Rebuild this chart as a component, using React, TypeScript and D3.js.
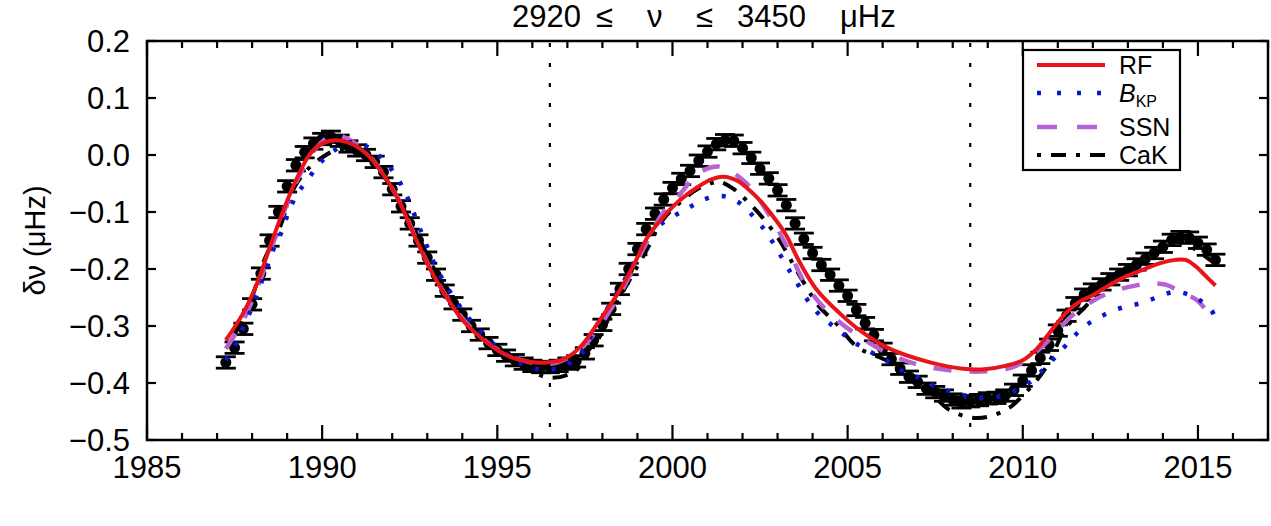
import React, { useEffect, useRef } from 'react';
import * as d3 from 'd3';

// observed frequency shifts (quarterly averages) with error bars
const obsYears = [
  1987.25, 1987.5, 1987.75, 1988.0, 1988.25, 1988.5, 1988.75, 1989.0, 1989.25, 1989.5, 1989.75,
  1990.0, 1990.25, 1990.5, 1990.75, 1991.0, 1991.25, 1991.5, 1991.75, 1992.0, 1992.25, 1992.5, 1992.75,
  1993.0, 1993.25, 1993.5, 1993.75, 1994.0, 1994.25, 1994.5, 1994.75, 1995.0, 1995.25, 1995.5, 1995.75,
  1996.0, 1996.25, 1996.5, 1996.75, 1997.0, 1997.25, 1997.5, 1997.75, 1998.0, 1998.25, 1998.5, 1998.75,
  1999.0, 1999.25, 1999.5, 1999.75, 2000.0, 2000.25, 2000.5, 2000.75, 2001.0, 2001.25, 2001.5, 2001.75,
  2002.0, 2002.25, 2002.5, 2002.75, 2003.0, 2003.25, 2003.5, 2003.75, 2004.0, 2004.25, 2004.5, 2004.75,
  2005.0, 2005.25, 2005.5, 2005.75, 2006.0, 2006.25, 2006.5, 2006.75, 2007.0, 2007.25, 2007.5, 2007.75,
  2008.0, 2008.25, 2008.5, 2008.75, 2009.0, 2009.25, 2009.5, 2009.75, 2010.0, 2010.25, 2010.5, 2010.75,
  2011.0, 2011.25, 2011.5, 2011.75, 2012.0, 2012.25, 2012.5, 2012.75, 2013.0, 2013.25, 2013.5, 2013.75,
  2014.0, 2014.25, 2014.5, 2014.75, 2015.0, 2015.25, 2015.5,
];
const obsValues = [
  -0.364, -0.338, -0.305, -0.262, -0.208, -0.15, -0.1, -0.055, -0.018, 0.005, 0.02,
  0.028, 0.032, 0.025, 0.015, 0.008, 0.0, -0.012, -0.03, -0.06, -0.09, -0.12, -0.15,
  -0.18, -0.21, -0.238, -0.26, -0.28, -0.3, -0.315, -0.33, -0.342, -0.352, -0.36, -0.366,
  -0.37, -0.372, -0.372, -0.37, -0.366, -0.362, -0.348, -0.325, -0.298, -0.27, -0.235, -0.2,
  -0.165, -0.13, -0.103, -0.078, -0.058, -0.042, -0.028, -0.01, 0.006, 0.019, 0.026, 0.025,
  0.012, -0.005, -0.024, -0.041, -0.062, -0.088, -0.12, -0.147, -0.172, -0.193, -0.21, -0.229,
  -0.247, -0.272, -0.295, -0.316, -0.34, -0.358, -0.375, -0.389, -0.398, -0.41, -0.416, -0.422,
  -0.429, -0.434, -0.432, -0.43, -0.427, -0.426, -0.422, -0.412, -0.396, -0.378, -0.356, -0.333,
  -0.308, -0.282, -0.26, -0.245, -0.236, -0.227, -0.218, -0.21, -0.202, -0.192, -0.182, -0.172,
  -0.161, -0.149, -0.144, -0.145, -0.154, -0.166, -0.184,
];
const obsError = 0.01;

// model fits
const rfYears = [
  1987.25, 1987.75, 1988.15, 1988.5, 1988.9, 1989.3, 1989.66, 1990.0, 1990.4, 1990.8, 1991.25,
  1991.7, 1992.15, 1992.6, 1993.1, 1993.55, 1994.0, 1994.5, 1995.0, 1995.45, 1995.95, 1996.4,
  1996.9, 1997.35, 1997.9, 1998.5, 1998.9, 1999.3, 1999.75, 2000.2, 2000.7, 2001.15, 2001.45,
  2001.85, 2002.2, 2002.56, 2002.9, 2003.24, 2003.62, 2004.1, 2004.76, 2005.4, 2006.1, 2007.3,
  2008.3, 2008.9, 2009.5, 2010.0, 2010.4, 2010.75, 2011.2, 2011.6, 2012.0, 2012.5, 2012.95,
  2013.4, 2013.9, 2014.35, 2014.65, 2014.95, 2015.2, 2015.5,
];
const rfValues = [
  -0.325, -0.277, -0.224, -0.163, -0.096, -0.038, 0.002, 0.02, 0.026, 0.021, 0.003,
  -0.03, -0.075, -0.137, -0.202, -0.249, -0.289, -0.319, -0.342, -0.356, -0.363, -0.364,
  -0.358, -0.338, -0.292, -0.237, -0.192, -0.143, -0.108, -0.08, -0.057, -0.042, -0.038,
  -0.045, -0.062, -0.084, -0.11, -0.14, -0.187, -0.235, -0.277, -0.31, -0.337, -0.363,
  -0.375, -0.376, -0.37, -0.36, -0.34, -0.313, -0.279, -0.258, -0.246, -0.227, -0.213,
  -0.202, -0.19, -0.184, -0.184, -0.196, -0.211, -0.229,
];

const bkpYears = [
  1987.25, 1987.57, 1987.8, 1988.03, 1988.22, 1988.42, 1988.6, 1988.84, 1989.03, 1989.27, 1989.6,
  1989.94, 1990.37, 1990.84, 1991.36, 1991.8, 1992.13, 1992.4, 1992.83, 1993.26, 1993.87, 1994.55,
  1995.41, 1995.93, 1996.44, 1996.98, 1997.49, 1997.72, 1998.0, 1998.29, 1998.58, 1998.83, 1999.12,
  1999.4, 1999.9, 2000.4, 2000.86, 2001.42, 2001.91, 2002.33, 2002.67, 2003.0, 2003.27, 2003.56,
  2003.85, 2004.19, 2004.67, 2005.1, 2005.55, 2006.1, 2006.52, 2007.04, 2007.55, 2008.12, 2008.66,
  2009.22, 2009.77, 2010.22, 2010.65, 2011.03, 2011.4, 2011.82, 2012.3, 2012.82, 2013.36, 2013.87,
  2014.36, 2014.95, 2015.38, 2015.5,
];
const bkpValues = [
  -0.36, -0.328, -0.295, -0.263, -0.231, -0.198, -0.167, -0.135, -0.102, -0.07, -0.042,
  -0.014, 0.009, 0.023, 0.012, -0.012, -0.039, -0.07, -0.135, -0.198, -0.26, -0.312,
  -0.356, -0.372, -0.377, -0.368, -0.342, -0.312, -0.284, -0.254, -0.225, -0.196, -0.163,
  -0.135, -0.112, -0.095, -0.079, -0.072, -0.084, -0.109, -0.135, -0.167, -0.196, -0.225,
  -0.254, -0.28, -0.304, -0.325, -0.342, -0.36, -0.377, -0.391, -0.407, -0.418, -0.426,
  -0.425, -0.414, -0.398, -0.372, -0.348, -0.322, -0.298, -0.281, -0.268, -0.26, -0.249,
  -0.24, -0.251, -0.272, -0.288,
];

const ssnYears = [
  1987.25, 1987.75, 1988.2, 1988.6, 1989.0, 1989.4, 1989.8, 1990.2, 1990.5, 1990.9, 1991.3,
  1991.7, 1992.2, 1992.7, 1993.2, 1993.7, 1994.2, 1994.7, 1995.2, 1995.7, 1996.2, 1996.7,
  1997.35, 1998.29, 1999.26, 1999.72, 2000.2, 2000.68, 2001.14, 2001.45, 2002.1, 2002.76, 2003.27,
  2003.81, 2004.47, 2005.42, 2006.37, 2007.3, 2008.5, 2009.2, 2009.8, 2010.54, 2011.5, 2012.45,
  2013.3, 2013.7, 2014.1, 2014.6, 2015.0, 2015.45,
];
const ssnValues = [
  -0.34, -0.29, -0.225, -0.155, -0.085, -0.03, 0.01, 0.032, 0.034, 0.022, 0.002,
  -0.03, -0.08, -0.15, -0.212, -0.262, -0.3, -0.328, -0.348, -0.36, -0.366, -0.364,
  -0.342, -0.266, -0.154, -0.102, -0.07, -0.035, -0.021, -0.022, -0.049, -0.105, -0.161,
  -0.228, -0.277, -0.322, -0.354, -0.372, -0.38, -0.378, -0.37, -0.337, -0.277, -0.242,
  -0.228, -0.225, -0.228, -0.243, -0.256, -0.29,
];

const cakYears = [
  1987.3, 1987.9, 1988.35, 1988.8, 1989.17, 1989.57, 1990.03, 1990.42, 1990.8, 1991.27, 1991.84,
  1992.3, 1992.8, 1993.3, 1993.8, 1994.3, 1994.8, 1995.3, 1995.8, 1996.2, 1996.5, 1996.98,
  1997.35, 1997.55, 1997.92, 1998.29, 1998.78, 1999.26, 1999.72, 2000.2, 2000.68, 2001.14, 2001.34,
  2001.71, 2002.1, 2002.56, 2003.05, 2003.33, 2003.7, 2004.19, 2004.67, 2005.28, 2006.1, 2007.0,
  2007.5, 2007.9, 2008.55, 2009.03, 2009.6, 2009.97, 2010.4, 2010.74, 2011.2, 2011.8, 2012.45,
  2013.39, 2013.96, 2014.36, 2014.6, 2014.95, 2015.3, 2015.5,
];
const cakValues = [
  -0.336, -0.266, -0.184, -0.126, -0.061, -0.026, -0.003, 0.009, 0.009, -0.003, -0.044,
  -0.092, -0.15, -0.212, -0.262, -0.3, -0.33, -0.352, -0.372, -0.386, -0.391, -0.386,
  -0.372, -0.347, -0.319, -0.272, -0.219, -0.167, -0.114, -0.084, -0.061, -0.049, -0.047,
  -0.058, -0.079, -0.109, -0.149, -0.179, -0.219, -0.266, -0.295, -0.337, -0.36, -0.393,
  -0.425, -0.447, -0.461, -0.459, -0.444, -0.424, -0.395, -0.365, -0.306, -0.265, -0.222,
  -0.19, -0.167, -0.152, -0.152, -0.167, -0.182, -0.19,
];

const minimaYears = [1996.5, 2008.5];
const xMajorTicks = [1985, 1990, 1995, 2000, 2005, 2010, 2015];
const xMinorTicks = d3.range(1985, 2018, 1);
const yTicks = [-0.5, -0.4, -0.3, -0.2, -0.1, 0.0, 0.1, 0.2];

const seriesStyles = [
  { name: 'RF', years: rfYears, values: rfValues, color: '#e8141a', dash: null as string | null, legendDash: null as string | null, width: 4 },
  { name: 'BKP', years: bkpYears, values: bkpValues, color: '#0a16d4', dash: '4,13', legendDash: '4,16', width: 4.5 },
  { name: 'SSN', years: ssnYears, values: ssnValues, color: '#b563d2', dash: '18,18', legendDash: '20,20', width: 4.5 },
  { name: 'CaK', years: cakYears, values: cakValues, color: '#000000', dash: '4,10,15,10', legendDash: '4,10,15,10', width: 4 },
];

// title pieces and their left edges
const titleParts: [string, number][] = [
  ['2920', 512], ['≤', 596], ['ν', 647], ['≤', 696], ['3450', 737], ['μHz', 840],
];

const W = 1271;
const H = 526;
const margin = { top: 41, right: 3, bottom: 86, left: 147 };
const FONT = '"Liberation Sans", Arial, Helvetica, sans-serif';

const App: React.FC = () => {
  const svgRef = useRef<SVGSVGElement>(null);

  useEffect(() => {
    if (!svgRef.current) return;
    const svg = d3.select(svgRef.current);
    svg.selectAll('*').remove();

    const x = d3.scaleLinear().domain([1985, 2017]).range([margin.left, W - margin.right]);
    const y = d3.scaleLinear().domain([-0.5, 0.2]).range([H - margin.bottom, margin.top]);
    const x0 = margin.left, x1 = W - margin.right, y0 = H - margin.bottom, y1 = margin.top;

    svg.append('rect').attr('width', W).attr('height', H).attr('fill', '#fff');

    // vertical dotted lines at solar minima
    svg.selectAll('line.minima')
      .data(minimaYears)
      .enter()
      .append('line')
      .attr('x1', d => x(d)).attr('x2', d => x(d))
      .attr('y1', y1 + 2).attr('y2', y0)
      .attr('stroke', '#000').attr('stroke-width', 2.2)
      .attr('stroke-dasharray', '4,16');

    // observations with error bars
    const obs = obsYears.map((t, i) => ({ t, v: obsValues[i] }));
    const g = svg.append('g');
    obs.forEach(d => {
      const cx = x(d.t);
      const yt = y(d.v + obsError), yb = y(d.v - obsError);
      g.append('line').attr('x1', cx).attr('x2', cx).attr('y1', yt).attr('y2', yb)
        .attr('stroke', '#000').attr('stroke-width', 3);
      g.append('line').attr('x1', cx - 10).attr('x2', cx + 10).attr('y1', yt).attr('y2', yt)
        .attr('stroke', '#000').attr('stroke-width', 2.8);
      g.append('line').attr('x1', cx - 10).attr('x2', cx + 10).attr('y1', yb).attr('y2', yb)
        .attr('stroke', '#000').attr('stroke-width', 2.8);
      g.append('circle').attr('cx', cx).attr('cy', y(d.v)).attr('r', 5.5).attr('fill', '#000');
    });

    // model curves
    const line = d3.line<[number, number]>()
      .x(d => x(d[0]))
      .y(d => y(d[1]))
      .curve(d3.curveCatmullRom.alpha(0.5));

    // draw CaK, SSN, BKP first, RF on top
    [3, 2, 1, 0].forEach(k => {
      const s = seriesStyles[k];
      const pts = s.years.map((t, i) => [t, s.values[i]] as [number, number]);
      svg.append('path')
        .attr('d', line(pts))
        .attr('fill', 'none')
        .attr('stroke', s.color)
        .attr('stroke-width', s.width)
        .attr('stroke-dasharray', s.dash)
        .attr('stroke-linecap', 'butt');
    });

    // frame
    svg.append('rect')
      .attr('x', x0).attr('y', y1).attr('width', x1 - x0).attr('height', y0 - y1)
      .attr('fill', 'none').attr('stroke', '#000').attr('stroke-width', 2.5);

    // ticks on all four sides
    const ticks = svg.append('g').attr('stroke', '#000').attr('stroke-width', 2.2);
    xMinorTicks.forEach(t => {
      const len = xMajorTicks.includes(t) ? 15 : 7;
      ticks.append('line').attr('x1', x(t)).attr('x2', x(t)).attr('y1', y0).attr('y2', y0 - len);
      ticks.append('line').attr('x1', x(t)).attr('x2', x(t)).attr('y1', y1).attr('y2', y1 + len);
    });
    yTicks.forEach(v => {
      ticks.append('line').attr('x1', x0).attr('x2', x0 + 9).attr('y1', y(v)).attr('y2', y(v));
      ticks.append('line').attr('x1', x1).attr('x2', x1 - 9).attr('y1', y(v)).attr('y2', y(v));
    });

    // tick labels
    svg.append('g')
      .selectAll('text')
      .data(xMajorTicks)
      .enter()
      .append('text')
      .attr('x', d => x(d))
      .attr('y', y0 + 38)
      .attr('text-anchor', 'middle')
      .style('font-family', FONT)
      .style('font-size', '31px')
      .text(d => String(d));

    const fmt = d3.format('.1f');
    svg.append('g')
      .selectAll('text')
      .data(yTicks)
      .enter()
      .append('text')
      .attr('x', x0 - 17)
      .attr('y', d => y(d) + 11)
      .attr('text-anchor', 'end')
      .style('font-family', FONT)
      .style('font-size', '31px')
      .text(d => (d === 0 ? '0.0' : fmt(d)));

    // title
    svg.append('g')
      .selectAll('text')
      .data(titleParts)
      .enter()
      .append('text')
      .attr('x', d => d[1])
      .attr('y', 27)
      .style('font-family', FONT)
      .style('font-size', '31px')
      .text(d => d[0]);

    // y label
    svg.append('text')
      .attr('transform', `translate(45,${(y0 + y1) / 2}) rotate(-90)`)
      .attr('text-anchor', 'middle')
      .style('font-family', FONT)
      .style('font-size', '29px')
      .text('δν (μHz)');

    // legend
    const lg = svg.append('g');
    lg.append('rect')
      .attr('x', 1023).attr('y', 50).attr('width', 157).attr('height', 120)
      .attr('fill', '#fff').attr('stroke', '#000').attr('stroke-width', 2.2);
    const rowY = [65, 93, 127, 155];
    seriesStyles.forEach((s, i) => {
      lg.append('line')
        .attr('x1', 1037).attr('x2', 1105).attr('y1', rowY[i]).attr('y2', rowY[i])
        .attr('stroke', s.color).attr('stroke-width', s.width)
        .attr('stroke-dasharray', s.legendDash);
      const txt = lg.append('text')
        .attr('x', 1119).attr('y', rowY[i] + 9)
        .style('font-family', FONT)
        .style('font-size', '25px');
      if (s.name === 'BKP') {
        txt.append('tspan').style('font-style', 'italic').text('B');
        txt.append('tspan').attr('dy', 5).style('font-size', '16px').text('KP');
      } else {
        txt.text(s.name);
      }
    });
  }, []);

  return (
    <svg
      ref={svgRef}
      width={W}
      height={H}
      style={{ position: 'absolute', left: 0, top: 0, display: 'block' }}
    />
  );
};

export default App;
